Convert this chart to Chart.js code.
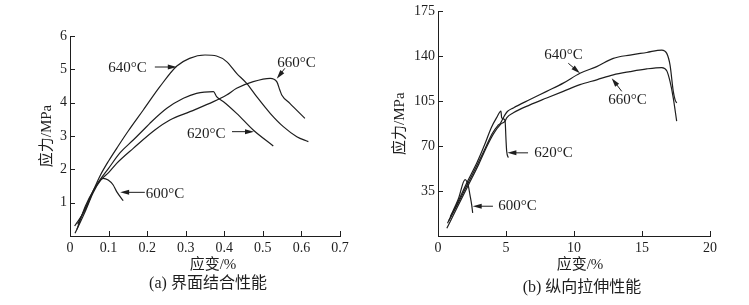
<!DOCTYPE html>
<html>
<head>
<meta charset="utf-8">
<script src="https://cdn.jsdelivr.net/npm/chart.js@4.4.0/dist/chart.umd.min.js"></script>
<style>
    body { margin: 0; background: #fff; width: 749px; height: 305px; position: relative; overflow: hidden; }
    .box { position: absolute; top: 0; height: 305px; }
</style>
</head>
<body>
<div class="box" style="left:0;width:370px"><canvas id="bondChart"></canvas></div>
<div class="box" style="left:370px;width:379px"><canvas id="tensileChart"></canvas></div>
<script>
// (a) interface bonding: strain % vs stress MPa
const bond600 = [[0.018,0.2],[0.04,0.9],[0.06,1.35],[0.086,1.73],[0.099,1.68],[0.112,1.53],[0.121,1.33],[0.138,1.06]];
const bond620 = [[0.02,0.35],[0.04,0.85],[0.06,1.35],[0.08,1.72],[0.1,2.03],[0.13,2.5],[0.164,2.88],[0.19,3.18],[0.207,3.38],[0.251,3.83],[0.294,4.13],[0.328,4.28],[0.372,4.33],[0.38,4.18],[0.398,4.03],[0.432,3.68],[0.475,3.18],[0.527,2.7]];
const bond640 = [[0.012,0.3],[0.04,0.8],[0.06,1.35],[0.08,1.85],[0.1,2.25],[0.125,2.7],[0.151,3.15],[0.19,3.78],[0.233,4.48],[0.277,5.1],[0.31,5.33],[0.35,5.43],[0.38,5.4],[0.406,5.23],[0.432,4.88],[0.458,4.58],[0.484,4.18],[0.519,3.68],[0.553,3.28],[0.588,2.98],[0.618,2.83]];
const bond660 = [[0.013,0.08],[0.04,0.75],[0.06,1.3],[0.08,1.68],[0.1,1.9],[0.121,2.18],[0.164,2.63],[0.22,3.18],[0.259,3.48],[0.311,3.73],[0.372,4.03],[0.406,4.23],[0.432,4.43],[0.475,4.63],[0.519,4.73],[0.536,4.63],[0.544,4.38],[0.549,4.23],[0.57,3.98],[0.609,3.53]];
const bondXTicks = [0, 0.1, 0.2, 0.3, 0.4, 0.5, 0.6, 0.7];
const bondYTicks = [1, 2, 3, 4, 5, 6];

// (b) longitudinal tension
const tensile600 = [[0.9,15],[1.5,29],[1.99,44],[2.23,39],[2.35,32],[2.48,24],[2.55,18]];
const tensile620 = [[0.7,10],[1.4,25],[2.1,41],[2.9,58],[3.5,73],[3.9,84],[4.3,92],[4.63,97.3],[4.68,92],[4.93,90],[5.0,75],[5.05,66],[5.17,61]];
const tensile640 = [[0.8,12],[1.5,26],[2.2,41],[3,58],[3.5,69],[4.0,80],[4.4,86],[4.6,88],[4.9,94],[5.1,97],[5.54,99.8],[6.76,106.3],[7.99,112.7],[9.21,119.1],[10.44,126.8],[11.67,132],[12.89,138.4],[14.12,141],[15.35,143],[16.45,144.9],[16.82,142.3],[17.06,133.3],[17.3,112.7],[17.43,106.3],[17.55,103.7]];
const tensile660 = [[0.65,6],[1.4,22],[2.2,39],[3,56],[3.6,70],[4.1,80],[4.6,87],[4.93,89.5],[5.05,92.1],[5.54,96],[6.76,102.2],[7.99,107.5],[9.21,112.7],[10.44,117.9],[11.67,121.7],[12.89,125.6],[14.12,128.1],[15.35,130.2],[16.45,131.2],[16.82,128.7],[17.06,120.4],[17.3,107.5],[17.55,89.5]];
const tensileXTicks = [0, 5, 10, 15, 20];
const tensileYTicks = [35, 70, 105, 140, 175];

const seriesNames = ['600°C', '620°C', '640°C', '660°C'];

// callouts, in data units of each chart
const bondNotes = [
    { text: '640°C', at: [0.149, 5.04], from: [0.22, 5.07], to: [0.277, 5.07] },
    { text: '660°C', at: [0.587, 5.19], from: [0.557, 5.03], to: [0.536, 4.72] },
    { text: '620°C', at: [0.353, 3.06], from: [0.42, 3.13], to: [0.477, 3.13] },
    { text: '600°C', at: [0.246, 1.26], from: [0.194, 1.31], to: [0.13, 1.31] }
];
const tensileNotes = [
    { text: '640°C', at: [9.23, 141.3], from: [9.58, 134.6], to: [10.44, 126.8] },
    { text: '660°C', at: [13.93, 105.8], from: [13.51, 112.7], to: [12.77, 123] },
    { text: '620°C', at: [8.49, 64.8], from: [6.62, 64.8], to: [5.1, 64.8] },
    { text: '600°C', at: [5.85, 23.2], from: [4.04, 23.2], to: [2.55, 23.2] }
];

const serif = '"Liberation Serif", "Noto Sans CJK SC", serif';
const ink = '#1e1e1e';

const paperPlugin = {
    id: 'paper',
    afterDraw(chart, args, opts) {
        const { ctx, chartArea: a, scales: { x, y } } = chart;
        ctx.save();
        ctx.strokeStyle = ink;
        ctx.fillStyle = ink;
        ctx.lineWidth = 1;

        // ticks point inward
        ctx.beginPath();
        x.ticks.forEach(t => {
            const px = Math.round(x.getPixelForValue(t.value)) + 0.5;
            ctx.moveTo(px, a.bottom);
            ctx.lineTo(px, a.bottom - 5);
        });
        y.ticks.forEach(t => {
            const py = Math.round(y.getPixelForValue(t.value)) + 0.5;
            ctx.moveTo(a.left, py);
            ctx.lineTo(a.left + 5, py);
        });
        ctx.stroke();

        // callouts with arrows
        ctx.font = '15px ' + serif;
        ctx.textAlign = 'center';
        ctx.textBaseline = 'middle';
        opts.notes.forEach(n => {
            const x1 = x.getPixelForValue(n.from[0]), y1 = y.getPixelForValue(n.from[1]);
            const x2 = x.getPixelForValue(n.to[0]), y2 = y.getPixelForValue(n.to[1]);
            const ang = Math.atan2(y2 - y1, x2 - x1);
            ctx.beginPath();
            ctx.moveTo(x1, y1);
            ctx.lineTo(x2 - 6 * Math.cos(ang), y2 - 6 * Math.sin(ang));
            ctx.stroke();
            ctx.beginPath();
            ctx.moveTo(x2, y2);
            ctx.lineTo(x2 - 9 * Math.cos(ang) + 2.5 * Math.sin(ang), y2 - 9 * Math.sin(ang) - 2.5 * Math.cos(ang));
            ctx.lineTo(x2 - 9 * Math.cos(ang) - 2.5 * Math.sin(ang), y2 - 9 * Math.sin(ang) + 2.5 * Math.cos(ang));
            ctx.closePath();
            ctx.fill();
            ctx.fillText(n.text, x.getPixelForValue(n.at[0]), y.getPixelForValue(n.at[1]));
        });

        // x title and caption under the plot
        ctx.font = '15px ' + serif;
        ctx.fillText('应变/%', opts.titleX, 265);
        ctx.font = '16px ' + serif;
        ctx.fillText(opts.caption, opts.captionX, opts.captionY);
        ctx.restore();
    }
};

function makeChart(id, series, xTicks, yTicks, xMax, yMax, yWidth, padding, notes, titleX, caption, captionX, captionY, yTitlePad) {
    const ctx = document.getElementById(id).getContext('2d');
    return new Chart(ctx, {
        type: 'scatter',
        data: {
            datasets: series.map((s, i) => ({
                label: seriesNames[i],
                data: s.map(p => ({ x: p[0], y: p[1] })),
                showLine: true,
                borderColor: ink,
                borderWidth: 1.2,
                pointRadius: 0,
                cubicInterpolationMode: 'monotone'
            }))
        },
        options: {
            responsive: true,
            maintainAspectRatio: false,
            animation: false,
            layout: { padding: padding },
            plugins: {
                legend: { display: false },
                tooltip: { enabled: false },
                paper: { notes: notes, titleX: titleX, caption: caption, captionX: captionX, captionY: captionY }
            },
            scales: {
                x: {
                    type: 'linear',
                    min: 0,
                    max: xMax,
                    afterBuildTicks: s => { s.ticks = xTicks.map(v => ({ value: v })); },
                    afterFit: s => { s.height = 69; },
                    grid: { drawOnChartArea: false, drawTicks: false },
                    border: { color: ink, width: 1 },
                    ticks: { padding: 4, maxRotation: 0, color: ink, font: { family: serif, size: 14 } }
                },
                y: {
                    type: 'linear',
                    min: 0,
                    max: yMax,
                    afterBuildTicks: s => { s.ticks = yTicks.map(v => ({ value: v })); },
                    afterFit: s => { s.width = yWidth; },
                    grid: { drawOnChartArea: false, drawTicks: false },
                    border: { color: ink, width: 1 },
                    ticks: { padding: 3, color: ink, font: { family: serif, size: 14 } },
                    title: {
                        display: true,
                        text: '应力/MPa',
                        color: ink,
                        font: { family: serif, size: 15 },
                        padding: { top: yTitlePad, bottom: 0 }
                    }
                }
            }
        },
        plugins: [paperPlugin]
    });
}

makeChart('bondChart', [bond600, bond620, bond640, bond660], bondXTicks, bondYTicks, 0.7, 6, 70,
    { top: 36, right: 30, left: 0, bottom: 0 }, bondNotes, 213, '(a) 界面结合性能', 208, 284, 38);
makeChart('tensileChart', [tensile600, tensile620, tensile640, tensile660], tensileXTicks, tensileYTicks, 20, 175, 68,
    { top: 9, right: 39, left: 0, bottom: 0 }, tensileNotes, 210, '(b) 纵向拉伸性能', 212, 288, 21);
</script>
</body>
</html>
